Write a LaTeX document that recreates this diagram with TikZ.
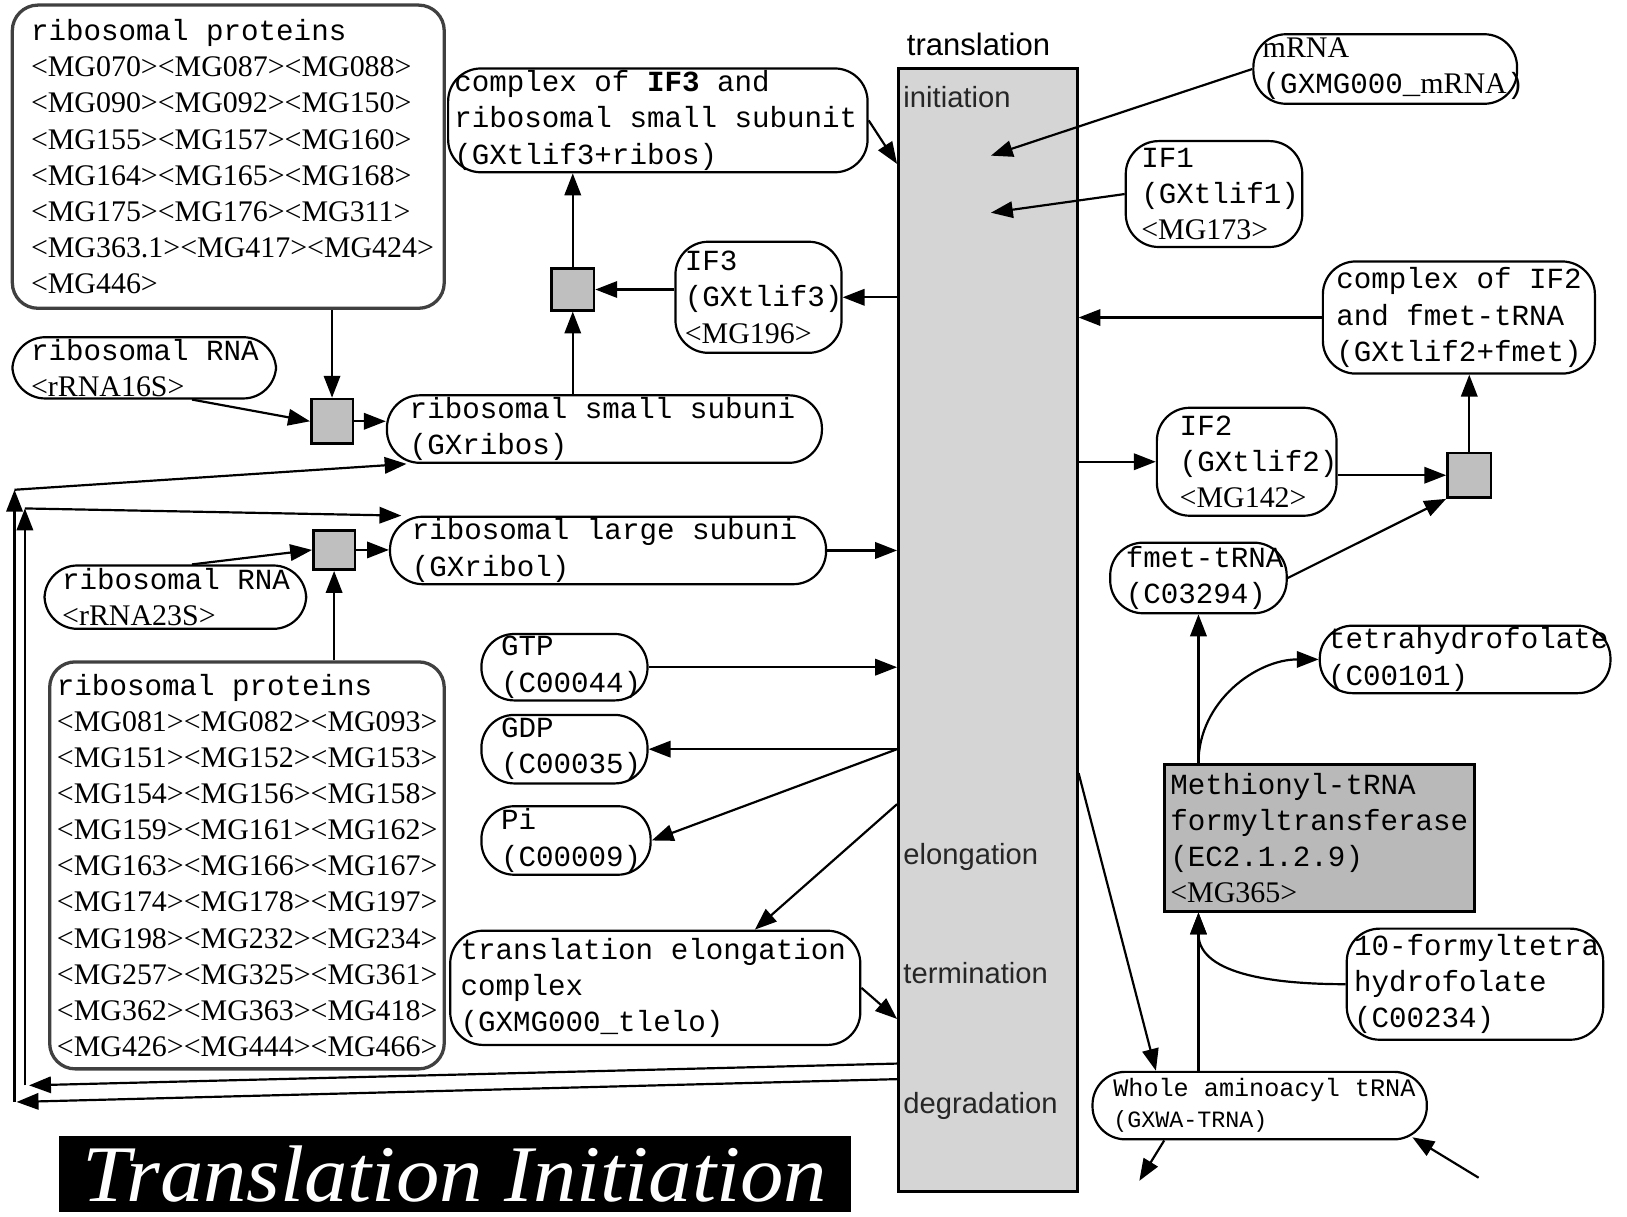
\documentclass[tikz,border=0pt]{standalone}
\usepackage{fontspec}
\setmainfont{Liberation Serif}
\setsansfont{Liberation Sans}
\setmonofont{Liberation Mono}
\usetikzlibrary{arrows.meta,calc}
\newcommand{\mgid}[1]{{\rmfamily\fontsize{8.2}{9.9}\selectfont #1}}

\begin{document}
\begin{tikzpicture}[x=0.01cm, y=-0.01cm,
  monotext/.style={align=left, inner ysep=0pt, font=\ttfamily\fontsize{8}{9.9}\selectfont,
    execute at begin node={\spaceskip=\fontdimen2\font\xspaceskip=\fontdimen2\font\relax}},
  box/.style={monotext, draw, rounded corners=9pt, line width=0.6pt},
  listbox/.style={box, rounded corners=7pt, draw=gray!50!black, line width=0.9pt},
  sqbox/.style={draw, fill=gray!50, line width=0.7pt, inner sep=0pt},
  arr/.style={-{Triangle[length=6pt,width=4.5pt]}, line width=0.6pt},
  phase/.style={font=\sffamily\fontsize{8}{9}\selectfont, text=black!85, anchor=west, inner sep=0pt}]
\useasboundingbox (0,0) rectangle (1568,1172);

% translation column
\node[draw, fill=gray!33, line width=0.8pt, minimum width=1.72cm, minimum height=10.82cm, inner sep=0pt] (col) at (952,607) {};
\node[font=\sffamily\fontsize{8.5}{9}\selectfont] (trname) at (943,43) {translation};
\node[phase] (ini) at (870,94) {initiation};
\node[phase] (elo) at (870,826) {elongation};
\node[phase] (ter) at (870,938) {termination};
\node[phase] (deg) at (870,1066) {degradation};

% small subunit side
\node[listbox, text width=3.80cm, inner xsep=0.18cm, minimum height=2.92cm] (rp1) at (220,151)
  {ribosomal~proteins\\\mgid{<MG070><MG087><MG088>}\\\mgid{<MG090><MG092><MG150>}\\\mgid{<MG155><MG157><MG160>}\\\mgid{<MG164><MG165><MG168>}\\\mgid{<MG175><MG176><MG311>}\\\mgid{<MG363.1><MG417><MG424>}\\\mgid{<MG446>}};
\node[box, text width=2.18cm, inner xsep=0.18cm, minimum height=0.59cm] (rna16) at (139,354.5) {ribosomal~RNA\\\mgid{<rRNA16S>}};
\node[sqbox, minimum width=0.40cm, minimum height=0.43cm] (sq1) at (320,406) {};
\node[box, text width=3.75cm, inner xsep=0.22cm, minimum height=0.65cm] (ssu) at (582.5,413.5) {ribosomal~small~subuni\\(GXribos)};
\node[sqbox, minimum width=0.41cm, minimum height=0.40cm] (sq2) at (552,279) {};
\node[box, text width=3.92cm, inner xsep=0.06cm, minimum height=1.00cm] (cif3) at (634,116) {complex~of~\textbf{IF3}~and\\ribosomal~small~subunit\\(GXtlif3+ribos)};
\node[box, text width=1.42cm, inner xsep=0.09cm, minimum height=1.07cm] (if3) at (731,286.5) {IF3\\(GXtlif3)\\\mgid{<MG196>}};

% large subunit side
\node[box, text width=3.78cm, inner xsep=0.21cm, minimum height=0.65cm] (lsu) at (586,530.5) {ribosomal~large~subuni\\(GXribol)};
\node[sqbox, minimum width=0.40cm, minimum height=0.38cm] (sq4) at (322,530) {};
\node[box, text width=2.18cm, inner xsep=0.17cm, minimum height=0.61cm] (rna23) at (169,575.5) {ribosomal~RNA\\\mgid{<rRNA23S>}};
\node[listbox, text width=3.66cm, inner xsep=0.07cm, minimum height=3.92cm] (rp2) at (238,834)
  {ribosomal~proteins\\\mgid{<MG081><MG082><MG093>}\\\mgid{<MG151><MG152><MG153>}\\\mgid{<MG154><MG156><MG158>}\\\mgid{<MG159><MG161><MG162>}\\\mgid{<MG163><MG166><MG167>}\\\mgid{<MG174><MG178><MG197>}\\\mgid{<MG198><MG232><MG234>}\\\mgid{<MG257><MG325><MG361>}\\\mgid{<MG362><MG363><MG418>}\\\mgid{<MG426><MG444><MG466>}};

% GTP, GDP, Pi and elongation complex
\node[box, text width=1.22cm, inner xsep=0.19cm, minimum height=0.64cm] (gtp) at (544,643) {GTP\\(C00044)};
\node[box, text width=1.22cm, inner xsep=0.19cm, minimum height=0.66cm] (gdp) at (544,722) {GDP\\(C00035)};
\node[box, text width=1.25cm, inner xsep=0.19cm, minimum height=0.66cm] (pi) at (545.5,810) {Pi\\(C00009)};
\node[box, text width=3.75cm, inner xsep=0.10cm, minimum height=1.10cm] (telo) at (631.5,952) {translation~elongation\\complex\\(GXMG000\_tlelo)};

% right side
\node[box, text width=2.36cm, inner xsep=0.09cm, minimum height=0.67cm] (mrna) at (1335,66.5) {\mgid{mRNA}\\(GXMG000\_\mgid{mRNA})};
\node[box, text width=1.40cm, inner xsep=0.15cm, minimum height=1.02cm] (if1) at (1170,187) {IF1\\(GXtlif1)\\\mgid{<MG173>}};
\node[box, text width=2.36cm, inner xsep=0.13cm, minimum height=1.08cm] (cif2) at (1406,306) {complex~of~IF2\\and~fmet-tRNA\\(GXtlif2+fmet)};
\node[sqbox, minimum width=0.42cm, minimum height=0.43cm] (sq3) at (1416,458) {};
\node[box, text width=1.29cm, inner xsep=0.22cm, minimum height=1.04cm] (if2) at (1201.5,445) {IF2\\(GXtlif2)\\\mgid{<MG142>}};
\node[box, text width=1.40cm, inner xsep=0.15cm, minimum height=0.68cm] (fmet) at (1155,557) {fmet-tRNA\\(C03294)};
\node[box, text width=2.64cm, inner xsep=0.08cm, minimum height=0.65cm] (thf) at (1412,635.5) {tetrahydrofolate\\(C00101)};
\node[monotext, draw, fill=gray!55, line width=0.8pt, inner xsep=0.06cm, text width=2.87cm, minimum height=1.41cm] (enz) at (1271.5,807.5)
  {Methionyl-tRNA\\formyltransferase\\(EC2.1.2.9)\\\mgid{<MG365>}};
\node[box, text width=2.33cm, inner xsep=0.07cm, minimum height=1.07cm] (fthf) at (1421.5,948.5) {10-formyltetra\\hydrofolate\\(C00234)};
\node[box, font=\ttfamily\fontsize{6.9}{8.5}\selectfont, text width=2.82cm, inner xsep=0.20cm, minimum height=0.65cm] (wat) at (1214,1065.5)
  {Whole~aminoacyl~tRNA\\{\fontsize{6.4}{8.5}\selectfont(GXWA-TRNA)}};

% title
\node[fill=black, minimum width=7.63cm, minimum height=0.73cm, inner sep=0pt, text=white, font=\rmfamily\itshape\fontsize{22}{22}\selectfont] (title) at (438.5,1131.5) {\scalebox{1.08}[1]{Translation Initiation}};

% free ends
\coordinate (mtip) at (955,150);
\coordinate (ftip) at (955,205);
\coordinate (wout) at (1098,1138);
\coordinate (win) at (1425,1135);
\coordinate (o1) at (16,1062);
\coordinate (o2) at (14,472);
\coordinate (i1) at (28,1046);
\coordinate (i2) at (24,490);

% assembly of the subunits
\draw[arr] (sq1 |- rp1.south) -- (sq1.north);
\draw[arr] ($(rna16.south)+(46,0)$) -- (sq1.west);
\draw[arr] (sq1.east) -- (sq1.east -| ssu.west);
\draw[arr] (ssu.north -| sq2) -- (sq2.south);
\draw[arr] (sq2.north) -- (sq2 |- cif3.south);
\draw[arr] (if3.west |- sq2) -- (sq2.east);
\draw[arr] (col.west |- if3) -- (if3.east);
\draw[arr] (cif3.east) -- ($(cif3.east -| col.west)+(0,42)$);
\draw[arr] (sq4 |- rp2.north) -- (sq4.south);
\draw[arr] ($(rna23.north)+(16,0)$) -- (sq4.west);
\draw[arr] (sq4.east) -- (sq4.east -| lsu.west);
\draw[arr] (lsu.east) -- (lsu.east -| col.west);

% initiation factors
\draw[arr] (mrna.west) -- (mtip);
\draw[arr] (if1.west) -- (ftip);
\draw[arr] (cif2.west) -- (cif2.west -| col.east);
\draw[arr] (sq3.north) -- (sq3 |- cif2.south);
\draw[arr] (col.east |- if2) -- (if2.west);
\draw[arr] (if2.east |- sq3.west) -- (sq3.west);
\draw[arr] (fmet.east) -- (sq3.south west);
\draw[arr] (fmet.south |- enz.north) -- (fmet.south);
\draw[arr] (fmet.south |- enz.north) to[out=90,in=180] (thf.west);
\draw[arr] (fthf.west) to[out=180,in=-90] (fmet.south |- enz.south);
\draw[arr] (fmet.south |- wat.north) -- (fmet.south |- enz.south);
\draw[arr] ($(col.east)+(0,138)$) -- ($(wat.north)+(-100,0)$);
\draw[arr] ($(wat.south)+(-92,0)$) -- (wout);
\draw[arr] (win) -- ($(wat.south east)+(-15,-3)$);

% elongation
\draw[arr] (gtp.east) -- (gtp.east -| col.west);
\draw[arr] (col.west |- gdp) -- (gdp.east);
\draw[arr] (col.west |- gdp) -- (pi.east);
\draw[arr] ($(col.west)+(0,168)$) -- ($(telo.north)+(96,0)$);
\draw[arr] (telo.east) -- ($(telo.east -| col.west)+(0,30)$);

% recycling of the subunits
\draw[arr] ($(col.west)+(0,433)$) -- (o1);
\draw[arr] (o1 -| o2) -- (o2);
\draw[arr] (o2) -- ($(ssu.south west)+(20,0)$);
\draw[arr] ($(col.west)+(0,418)$) -- (i1);
\draw[arr] (i1 -| i2) -- (i2);
\draw[arr] (i2) -- ($(lsu.north west)+(12,0)$);
\end{tikzpicture}
\end{document}
